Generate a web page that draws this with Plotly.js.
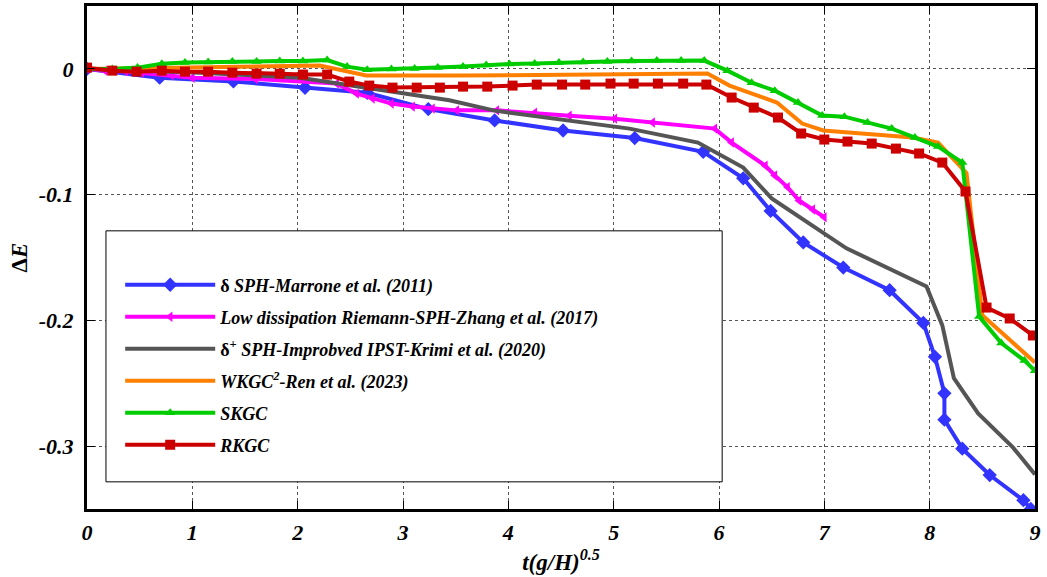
<!DOCTYPE html>
<html>
<head>
<meta charset="utf-8">
<script src="https://cdn.plot.ly/plotly-3.0.1.min.js"></script>
<style>html,body{margin:0;padding:0;background:#fff;}#chart{width:1047px;height:577px;}</style>
</head>
<body>
<div id="chart"></div>
<script>
// ---- data ----
const seriesNames = [
  "δ <i>SPH-Marrone et al. (2011)</i>",
  "<i>Low dissipation Riemann-SPH-Zhang et al. (2017)</i>",
  "δ<sup>+</sup> <i>SPH-Improbved IPST-Krimi et al. (2020)</i>",
  "<i>WKGC<sup>2</sup>-Ren et al. (2023)</i>",
  "<i>SKGC</i>",
  "<i>RKGC</i>"
];

const blueX = [0, 0.69, 1.39, 2.07, 2.66, 3.24, 3.87, 4.52, 5.20, 5.85, 6.23, 6.49, 6.80, 7.18, 7.62, 7.94, 8.05, 8.14, 8.14, 8.31, 8.57, 8.89, 8.96];
const blueY = [0, -0.007, -0.010, -0.015, -0.019, -0.032, -0.041, -0.049, -0.055, -0.066, -0.087, -0.113, -0.138, -0.158, -0.176, -0.202, -0.229, -0.258, -0.279, -0.302, -0.323, -0.343, -0.350];

const magX = [0, 0.17, 0.37, 0.52, 0.80, 1.00, 1.60, 2.37, 2.56, 2.71, 2.89, 3.09, 3.28, 3.51, 3.89, 4.25, 4.58, 5.01, 5.37, 5.96, 6.12, 6.44, 6.53, 6.65, 6.76, 6.89, 7.00];
const magY = [0, -0.0014, -0.002, -0.003, -0.005, -0.007, -0.008, -0.0117, -0.0197, -0.0236, -0.0276, -0.030, -0.0316, -0.033, -0.033, -0.0348, -0.0372, -0.0396, -0.0427, -0.0475, -0.0586, -0.077, -0.0848, -0.094, -0.1047, -0.1118, -0.118];

const grayX = [0, 1.07, 2.02, 2.45, 3.00, 3.44, 3.87, 5.15, 5.80, 6.23, 6.50, 7.21, 7.97, 8.12, 8.23, 8.46, 8.79, 9.00];
const grayY = [0, -0.003, -0.007, -0.0125, -0.0188, -0.025, -0.0332, -0.0475, -0.0586, -0.0785, -0.103, -0.1427, -0.173, -0.204, -0.246, -0.274, -0.301, -0.3225];

const orangeX = [0, 1.07, 2.21, 2.65, 3.54, 5.89, 6.10, 6.55, 6.79, 6.99, 7.84, 8.08, 8.35, 8.50, 9.00];
const orangeY = [0, 0.001, 0.0026, -0.0053, -0.0053, -0.0037, -0.0133, -0.0268, -0.0435, -0.049, -0.0546, -0.0586, -0.083, -0.196, -0.2335];

const greenX = [0, 0.24, 0.48, 0.71, 0.93, 1.15, 1.38, 1.61, 1.83, 2.05, 2.28, 2.47, 2.66, 2.89, 3.11, 3.33, 3.57, 3.79, 4.01, 4.25, 4.48, 4.71, 4.94, 5.17, 5.41, 5.64, 5.86, 6.08, 6.31, 6.53, 6.75, 6.98, 7.19, 7.41, 7.64, 7.86, 8.08, 8.31, 8.47, 8.68, 8.90, 9.00];
const greenY = [0, 0, 0.001, 0.004, 0.005, 0.0054, 0.0058, 0.0058, 0.0062, 0.0062, 0.007, 0.0018, -0.0006, 0, 0.0002, 0.001, 0.0018, 0.003, 0.0038, 0.0042, 0.005, 0.0054, 0.0058, 0.0062, 0.0066, 0.0066, 0.0066, -0.0014, -0.011, -0.0173, -0.0268, -0.0371, -0.038, -0.0427, -0.0475, -0.0546, -0.0618, -0.0745, -0.197, -0.218, -0.232, -0.240];

const redX = [0, 0.24, 0.47, 0.71, 0.93, 1.15, 1.38, 1.61, 1.83, 2.05, 2.28, 2.49, 2.68, 2.90, 3.13, 3.35, 3.57, 3.80, 4.04, 4.27, 4.51, 4.73, 4.97, 5.19, 5.42, 5.66, 5.88, 6.12, 6.33, 6.56, 6.78, 7.00, 7.22, 7.45, 7.68, 7.90, 8.12, 8.34, 8.54, 8.76, 8.98];
const redY = [0.001, -0.0014, -0.0022, -0.0014, -0.0022, -0.0022, -0.003, -0.0038, -0.0038, -0.0045, -0.0045, -0.0101, -0.0133, -0.0149, -0.0149, -0.0149, -0.0141, -0.0141, -0.0133, -0.0125, -0.0125, -0.0125, -0.0117, -0.0117, -0.0117, -0.0117, -0.0125, -0.0228, -0.0308, -0.0387, -0.0514, -0.0562, -0.0578, -0.0594, -0.0634, -0.0673, -0.0745, -0.0975, -0.1898, -0.1985, -0.212];

const xTickVals = [0, 1, 2, 3, 4, 5, 6, 7, 8, 9];
const xTickText = ["0", "1", "2", "3", "4", "5", "6", "7", "8", "9"];
const yTickVals = [0, -0.1, -0.2, -0.3];
const yTickText = ["0", "-0.1", "-0.2", "-0.3"];

// ---- styling ----
const FONT = "'Liberation Serif', 'Times New Roman', serif";
function tr(x, y, name, color, symbol, size, group) {
  const t = {
    x: x, y: y, name: name, type: 'scatter',
    mode: symbol ? 'lines+markers' : 'lines',
    line: {color: color, width: 4},
    legendgroup: group
  };
  if (symbol) t.marker = {symbol: symbol, size: size, color: color};
  return t;
}
const data = [
  tr(blueX, blueY, seriesNames[0], '#3333ff', 'diamond', 11, 'a'),
  tr(magX, magY, seriesNames[1], '#ff00ff', 'triangle-left', 9, 'b'),
  tr(grayX, grayY, seriesNames[2], '#555555', null, 0, 'c'),
  tr(orangeX, orangeY, seriesNames[3], '#ff8000', null, 0, 'd'),
  tr(greenX, greenY, seriesNames[4], '#00cc00', 'triangle-up', 9, 'e'),
  tr(redX, redY, seriesNames[5], '#cc0000', 'square', 10, 'f')
];
const axisCommon = {
  showline: true, linecolor: '#000', linewidth: 3, mirror: 'ticks',
  ticks: 'inside', ticklen: 8, tickwidth: 1, tickcolor: '#000',
  showgrid: true, gridcolor: '#555', griddash: 'dot', gridwidth: 1,
  zeroline: false,
  tickfont: {family: FONT, size: 22, color: '#000', weight: 'bold', style: 'italic'}
};
const layout = {
  width: 1047, height: 577,
  margin: {l: 87, r: 12, t: 6, b: 68},
  paper_bgcolor: '#fff', plot_bgcolor: '#fff',
  showlegend: true,
  xaxis: Object.assign({}, axisCommon, {
    range: [0, 9], tickvals: xTickVals, ticktext: xTickText, ticklabelstandoff: 2,
    title: {text: '<b><i>t(g/H)<sup>0.5</sup></i></b>', font: {family: FONT, size: 23, color: '#000'}, standoff: 10}
  }),
  yaxis: Object.assign({}, axisCommon, {
    range: [-0.35, 0.05], tickvals: yTickVals, ticktext: yTickText, ticklabelstandoff: 6,
    title: {text: '<b>Δ<i>E</i></b>', font: {family: FONT, size: 23, color: '#000'}, standoff: 5}
  }),
  shapes: [{
    type: 'rect', xref: 'paper', yref: 'paper', layer: 'above',
    x0: 0.02, x1: 0.67, y0: 0.054, y1: 0.553,
    fillcolor: '#fff', line: {color: '#000', width: 1}
  }],
  legend: {
    x: 0.035, y: 0.482, xanchor: 'left', yanchor: 'top',
    bgcolor: 'rgba(0,0,0,0)', borderwidth: 0,
    tracegroupgap: 5.6, itemwidth: 90,
    font: {family: FONT, size: 18, color: '#000', weight: 'bold'}
  }
};
Plotly.newPlot('chart', data, layout, {displayModeBar: false, staticPlot: true});
</script>
</body>
</html>
